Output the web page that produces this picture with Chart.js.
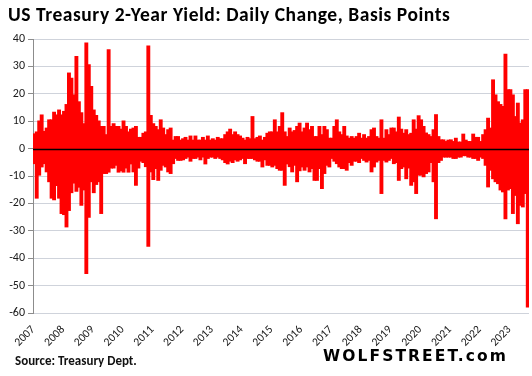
<!DOCTYPE html>
<html>
<head>
<meta charset="utf-8">
<script src="https://cdn.jsdelivr.net/npm/chart.js@4/dist/chart.umd.min.js"></script>
<style>
  html, body { margin: 0; padding: 0; background: #fff; }
  #wrap { position: relative; width: 532px; height: 376px; overflow: hidden; }
  #c { position: absolute; left: 0; top: 0; }
  .txt { position: absolute; white-space: nowrap; font-family: Carlito, Calibri, Lato, "Open Sans", sans-serif; }
  #title { left: 8px; top: 2px; font-weight: bold; font-size: 19.5px; letter-spacing: 0.55px; color: #000; }
  #source { left: 15px; top: 353px; font-weight: bold; font-size: 13px; color: #111; }
  #brand { left: 323px; top: 347px; font-family: "DejaVu Sans", Verdana, sans-serif; font-weight: bold; font-size: 15.5px; letter-spacing: 2.1px; color: #000; }
</style>
</head>
<body>
<div id="wrap">
  <canvas id="c" width="532" height="376"></canvas>
  <div class="txt" id="title">US Treasury 2-Year Yield: Daily Change, Basis Points</div>
  <div class="txt" id="source">Source: Treasury Dept.</div>
  <div class="txt" id="brand">WOLFSTREET.com</div>
</div>
<script>
// Year tick labels (one per 12 bins)
const years = ['2007','2008','2009','2010','2011','2012','2013','2014','2015','2016','2017','2018','2019','2020','2021','2022','2023'];

// Daily change envelope, basis points: highest and lowest daily change in each bin (12 bins per year)
const highs = [
  5.3, 6, 10, 12.2, 6.2, 7.4, 10.4, 10.4, 13.2, 12.2, 14, 12.2,          // 2007
  13.5, 16, 27.5, 25.6, 19.5, 33.5, 17, 13, 9, 38.5, 30.5, 22.6,         // 2008
  14, 12, 10, 8, 8, 5, 36, 8, 9, 8, 8, 7,                                // 2009
  10, 8, 6, 7, 7.4, 8, 4, 4, 5.5, 6, 37.4, 12,                           // 2010
  9, 8, 6.8, 10.4, 7.4, 5, 6.8, 7.4, 3, 4.3, 4.3, 3,                     // 2011
  3.5, 4, 3, 4.5, 3, 4.5, 3, 3, 4, 3, 4.5, 3,                            // 2012
  3.5, 3, 4, 3.5, 3.5, 5, 6, 7, 5, 6, 5, 4.5,                            // 2013
  3.7, 3, 4, 3.5, 11.6, 3.5, 4, 4.5, 3, 4, 5.5, 6,                       // 2014
  6, 10.4, 6, 8, 13, 6, 4.3, 7.4, 6, 6.5, 8, 9.2,                        // 2015
  6, 7.4, 9.2, 6.8, 8, 4.3, 4.3, 8, 5, 8, 6.8, 3.7,                      // 2016
  3.7, 8, 10.4, 6, 5, 8, 4.5, 3.7, 4.3, 3.7, 4.3, 5.5,                   // 2017
  3.7, 5, 3.7, 4.3, 6.8, 7.4, 4.3, 3.7, 10.4, 3.7, 6.8, 5,               // 2018
  7.4, 7.4, 6, 11.4, 7, 5.5, 6.8, 5, 5.5, 10.4, 7, 11.9,                 // 2019
  10.4, 8, 5.6, 5, 4.3, 6.8, 12.3, 4.3, 3.1, 3.1, 2.5, 3,                // 2020
  3.1, 2.5, 3.7, 2.3, 2.3, 5.2, 3, 2.5, 2.5, 5.2, 4, 4,                  // 2021
  2.5, 5, 6.8, 11, 7.4, 25, 19.5, 17, 16, 15.3, 34.4, 21.4,              // 2022
  21.4, 19.5, 11.6, 16.5, 9.2, 10.4, 21.4, 21.4                          // 2023
];
const lows = [
  -5.4, -18, -9.6, -6.6, -5.4, -8.4, -12, -18, -18.6, -13.4, -18, -23.6,      // 2007
  -24, -28.5, -22.5, -16, -12.5, -15.5, -14, -20.6, -15, -45.5, -25, -12,     // 2008
  -16, -13, -12, -23.6, -9, -9, -8.5, -7, -7, -6, -8.5, -8,                   // 2009
  -8.5, -7, -8.5, -5.5, -8.4, -13.3, -7, -4.5, -5, -6.5, -35.6, -8.4,         // 2010
  -11.2, -7.2, -11.5, -7.8, -6, -6.6, -8.4, -9, -5.4, -3.5, -4.2, -4.2,       // 2011
  -4, -3.5, -3, -4.5, -3.5, -3.5, -3, -4, -3, -5.5, -3.5, -3,                 // 2012
  -3, -3.5, -3, -3.5, -4, -5, -5.5, -4.5, -5, -4, -4.5, -4,                   // 2013
  -3.5, -5.4, -3.5, -3.5, -3.5, -4, -4.5, -4.5, -6.6, -4, -6, -6,             // 2014
  -6.6, -6, -7.2, -7.8, -7.8, -13.3, -5.5, -6.5, -8.4, -6, -12, -8,           // 2015
  -6.6, -7.8, -6.6, -8.4, -7.2, -11.5, -11.5, -7.2, -14.5, -9, -6, -6.6,      // 2016
  -3.5, -4.5, -5.4, -6.6, -7.2, -7.2, -7.8, -5, -6, -4.5, -4.5, -5,           // 2017
  -3.5, -4.2, -4.8, -4.2, -8.4, -6.6, -4.8, -4.2, -16.3, -4.2, -4.8, -4.2,    // 2018
  -3.5, -5.4, -5, -11.5, -7.2, -6.6, -10.9, -7, -13.3, -12, -16.3, -9.6,      // 2019
  -9.6, -10.2, -9, -8.4, -5, -12, -25.5, -5, -4.2, -3, -3, -3,                // 2020
  -3, -3.5, -3.5, -3, -3, -2.5, -2.5, -3, -3, -3.5, -3.5, -4.2,               // 2021
  -3, -3.5, -6, -13.9, -7.8, -10.9, -12, -12.7, -15, -15.7, -25.5, -15,       // 2022
  -14.5, -23.6, -17, -27.3, -20.6, -21.2, -16.3, -57.7                        // 2023
];
const binsPerYear = 12;
const yTicks = [40, 30, 20, 10, 0, -10, -20, -30, -40, -50, -60];

const labels = highs.map((_, i) => years[Math.floor(i / binsPerYear)] + '-' + (i % binsPerYear + 1));
const ranges = highs.map((h, i) => [lows[i], h]);

const FONT = 'Carlito, Calibri, Lato, "Open Sans", sans-serif';

const zeroLine = {
  id: 'zeroLine',
  afterDatasetsDraw(chart) {
    const { ctx, chartArea } = chart;
    const y = Math.round(chart.scales.y.getPixelForValue(0)) + 0.5;
    ctx.save();
    ctx.strokeStyle = '#000';
    ctx.lineWidth = 1.3;
    ctx.beginPath();
    ctx.moveTo(chartArea.left, y);
    ctx.lineTo(chartArea.right, y);
    ctx.stroke();
    ctx.restore();
  }
};

new Chart(document.getElementById('c'), {
  type: 'bar',
  data: {
    labels: labels,
    datasets: [{
      data: ranges,
      backgroundColor: '#ff0000',
      borderWidth: 0,
      barPercentage: 1,
      categoryPercentage: 1,
      inflateAmount: 0.7
    }]
  },
  options: {
    responsive: false,
    animation: false,
    events: [],
    layout: { padding: { left: 0, right: 3, top: 39, bottom: 0 } },
    plugins: { legend: { display: false }, tooltip: { enabled: false }, title: { display: false } },
    scales: {
      x: {
        type: 'category',
        grid: { display: false },
        border: { display: false },
        ticks: {
          autoSkip: false,
          maxRotation: 45,
          minRotation: 45,
          padding: 2,
          labelOffset: -1,
          color: '#1a1a1a',
          font: { family: FONT, size: 11.5 },
          callback: (v, i) => (i % binsPerYear === 0 ? years[i / binsPerYear] : null)
        },
        afterFit: (s) => { s.height = 63; }
      },
      y: {
        min: -60,
        max: 40,
        afterBuildTicks: (s) => { s.ticks = yTicks.map(v => ({ value: v })); },
        grid: { color: '#cfd3db', lineWidth: 1, tickLength: 5, tickColor: '#8c8c8c', drawTicks: true },
        border: { display: true, color: '#8c8c8c', width: 1 },
        ticks: {
          color: '#1a1a1a',
          padding: 3,
          font: { family: FONT, size: 12 }
        },
        afterFit: (s) => { s.width = 33; }
      }
    }
  },
  plugins: [zeroLine]
});
</script>
</body>
</html>
